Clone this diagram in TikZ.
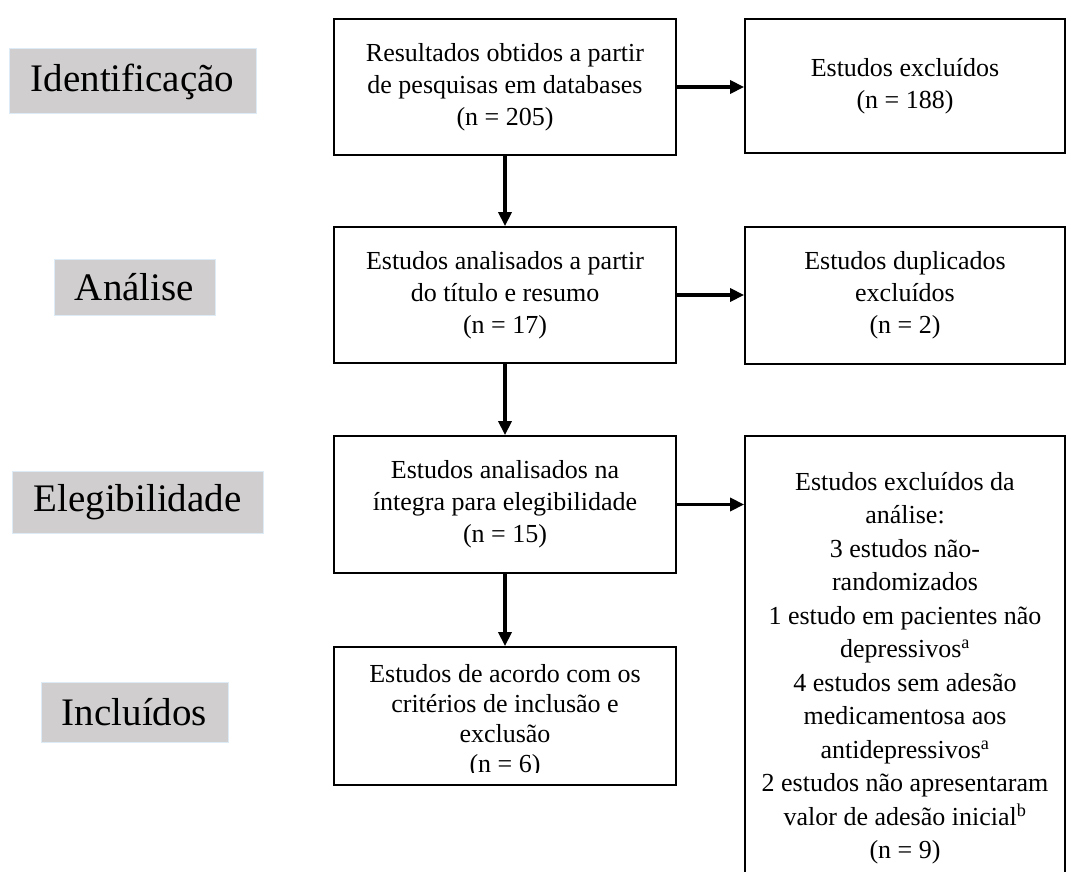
\documentclass[tikz,border=0pt]{standalone}
\usepackage{fontspec}
\setmainfont{Liberation Serif}
\usepackage{xcolor}
\usetikzlibrary{positioning, arrows.meta}
\definecolor{cinza}{HTML}{D0CECE}
\definecolor{bordaazul}{HTML}{DDEBF7}
\tikzset{
  caixa/.style={draw, line width=1.8pt, align=center, inner sep=0pt,
    minimum width=342pt, font=\fontsize{26}{32}\selectfont},
  caixadir/.style={caixa, minimum width=320pt},
  etapa/.style={fill=cinza, draw=bordaazul, line width=1pt, inner sep=0pt,
    font=\fontsize{39}{45}\selectfont},
  seta/.style={line width=3.5pt, -{Triangle[width=13pt,length=14pt]}},
  texto/.style={align=center, inner sep=0pt, font=\fontsize{26}{30}\selectfont}
}

\begin{document}
\begin{tikzpicture}[x=1pt,y=-1pt]
\clip (0,0) rectangle (1071,872);
\fill[white] (0,0) rectangle (1071,872);

% etapas
\node[etapa, minimum width=247pt, minimum height=65pt] (ident) at (132.5,81.5) {Identificação};
\node[etapa, minimum width=161pt, minimum height=56pt] (anal) at (134.5,287) {Análise};
\node[etapa, minimum width=251pt, minimum height=62pt] (eleg) at (137.5,502) {Elegibilidade};
\node[etapa, minimum width=187pt, minimum height=60pt] (incluidos) at (134.5,712) {Incluídos};

% coluna principal
\node[caixa, minimum height=136pt] (result) at (505,87)
  {Resultados obtidos a partir\\de pesquisas em databases\\(n = 205)};
\node[caixa, minimum height=136pt] (titulo) at (505,295)
  {Estudos analisados a partir\\do título e resumo\\(n = 17)};
\node[caixa, minimum height=137pt] (integra) at (505,504.5)
  {Estudos analisados na\\íntegra para elegibilidade\\(n = 15)};
\node[caixa, minimum height=138pt] (criterios) at (505,716) {};
\begin{scope}
\clip (criterios.north west) rectangle ([yshift=13pt]criterios.south east);
\node[texto, anchor=north] (critxt) at (505,664.5)
  {Estudos de acordo com os\\critérios de inclusão e\\exclusão\\(n = 6)};
\end{scope}

% coluna da direita
\node[caixadir, minimum height=134pt] (excl) at (905,86)
  {Estudos excluídos\\(n = 188)};
\node[caixadir, minimum height=137pt] (dupl) at (905,295.5)
  {Estudos duplicados\\excluídos\\(n = 2)};
\node[caixadir, minimum height=464pt, font=\fontsize{26}{33.5}\selectfont] (exclanal) at (905,668)
  {Estudos excluídos da\\análise:\\3 estudos não-\\randomizados\\1 estudo em pacientes não\\depressivos\textsuperscript{a}\\4 estudos sem adesão\\medicamentosa aos\\antidepressivos\textsuperscript{a}\\2 estudos não apresentaram\\valor de adesão inicial\textsuperscript{b}\\(n = 9)};

% setas
\draw[seta] (result) -- (titulo);
\draw[seta] (titulo) -- (integra);
\draw[seta] (integra) -- (criterios);
\draw[seta] (result.east) -- (result.east -| excl.west);
\draw[seta] (titulo.east) -- (titulo.east -| dupl.west);
\draw[seta] (integra.east) -- (integra.east -| exclanal.west);
\end{tikzpicture}
\end{document}
